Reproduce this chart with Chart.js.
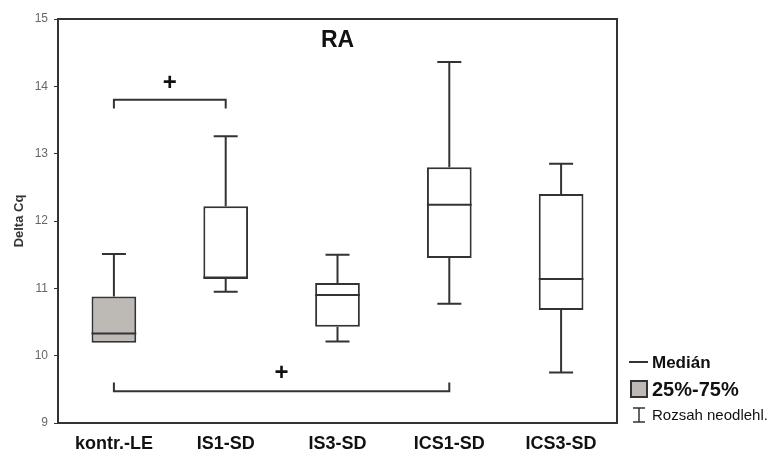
<!DOCTYPE html>
<html>
<head>
<meta charset="utf-8">
<script src="https://cdn.jsdelivr.net/npm/chart.js@4"></script>
<style>
  body { margin: 0; background: #fff; }
  #wrap { width: 771px; height: 452px; }
</style>
</head>
<body>
<div id="wrap"><canvas id="myChart"></canvas></div>
<script>
// data
const categories = ['kontr.-LE', 'IS1-SD', 'IS3-SD', 'ICS1-SD', 'ICS3-SD'];
const minVals = [10.19, 10.95, 10.21, 10.77, 9.75];
const q1Vals = [10.19, 11.14, 10.43, 11.45, 10.68];
const medianVals = [10.33, 11.16, 10.90, 12.24, 11.14];
const q3Vals = [10.88, 12.22, 11.08, 12.80, 12.40];
const maxVals = [11.51, 13.26, 11.50, 14.36, 12.85];
const yTicks = [9, 10, 11, 12, 13, 14, 15];
// significance brackets: from / to category index, bracket level, tick end level, plus level
const bracketFrom = [0, 0];
const bracketTo = [1, 3];
const bracketLevel = [13.80, 9.47];
const bracketEnd = [13.67, 9.60];
const plusLevel = [14.04, 9.73];

const lineColor = '#333333';
const boxFills = ['#bdbab6', '#ffffff', '#ffffff', '#ffffff', '#ffffff'];

const boxPlugin = {
    id: 'boxExtras',
    beforeDatasetsDraw(chart) {
        // whiskers behind the boxes
        const ctx = chart.ctx;
        const x = chart.scales.x, y = chart.scales.y;
        ctx.save();
        ctx.strokeStyle = lineColor;
        ctx.lineWidth = 2;
        for (let i = 0; i < categories.length; i++) {
            const cx = x.getPixelForValue(i);
            const cap = 12;
            const parts = [[q3Vals[i], maxVals[i]], [q1Vals[i], minVals[i]]];
            parts.forEach(function (p) {
                if (Math.abs(p[0] - p[1]) < 0.01) return;
                ctx.beginPath();
                ctx.moveTo(cx, y.getPixelForValue(p[0]));
                ctx.lineTo(cx, y.getPixelForValue(p[1]));
                ctx.moveTo(cx - cap, y.getPixelForValue(p[1]));
                ctx.lineTo(cx + cap, y.getPixelForValue(p[1]));
                ctx.stroke();
            });
        }
        ctx.restore();
    },
    afterDatasetsDraw(chart) {
        const ctx = chart.ctx;
        const x = chart.scales.x, y = chart.scales.y;
        const area = chart.chartArea;
        ctx.save();
        ctx.strokeStyle = lineColor;
        ctx.lineWidth = 2;

        // medians
        const meta = chart.getDatasetMeta(0);
        meta.data.forEach(function (bar, i) {
            const half = bar.width / 2;
            const my = y.getPixelForValue(medianVals[i]);
            ctx.beginPath();
            ctx.moveTo(bar.x - half, my);
            ctx.lineTo(bar.x + half, my);
            ctx.stroke();
        });

        // frame
        ctx.strokeRect(area.left, area.top, area.right - area.left, area.bottom - area.top);

        // brackets
        ctx.fillStyle = '#111';
        ctx.font = 'bold 24px Arial, "Liberation Sans", sans-serif';
        ctx.textAlign = 'center';
        ctx.textBaseline = 'middle';
        for (let b = 0; b < bracketFrom.length; b++) {
            const x1 = x.getPixelForValue(bracketFrom[b]);
            const x2 = x.getPixelForValue(bracketTo[b]);
            const by = y.getPixelForValue(bracketLevel[b]);
            const ey = y.getPixelForValue(bracketEnd[b]);
            ctx.beginPath();
            ctx.moveTo(x1, ey);
            ctx.lineTo(x1, by);
            ctx.lineTo(x2, by);
            ctx.lineTo(x2, ey);
            ctx.stroke();
            ctx.fillText('+', (x1 + x2) / 2, y.getPixelForValue(plusLevel[b]));
        }

        // title
        ctx.font = 'bold 23px Arial, "Liberation Sans", sans-serif';
        ctx.fillText('RA', x.getPixelForValue(2), area.top + 22);

        // y axis title
        ctx.save();
        ctx.translate(19, (area.top + area.bottom) / 2);
        ctx.rotate(-Math.PI / 2);
        ctx.font = 'bold 13px Arial, "Liberation Sans", sans-serif';
        ctx.fillStyle = '#333';
        ctx.fillText('Delta Cq', 0, 0);
        ctx.restore();

        // legend
        const lx = area.right + 12;
        ctx.textAlign = 'left';
        ctx.fillStyle = '#111';
        ctx.beginPath();
        ctx.moveTo(lx, 362);
        ctx.lineTo(lx + 19, 362);
        ctx.stroke();
        ctx.font = 'bold 17px Arial, "Liberation Sans", sans-serif';
        ctx.fillText('Medián', lx + 23, 363);

        ctx.fillStyle = boxFills[0];
        ctx.fillRect(lx + 2, 381, 16, 16);
        ctx.strokeRect(lx + 2, 381, 16, 16);
        ctx.fillStyle = '#111';
        ctx.font = 'bold 20px Arial, "Liberation Sans", sans-serif';
        ctx.fillText('25%-75%', lx + 23, 390);

        ctx.lineWidth = 1.5;
        ctx.beginPath();
        ctx.moveTo(lx + 4, 408); ctx.lineTo(lx + 16, 408);
        ctx.moveTo(lx + 10, 408); ctx.lineTo(lx + 10, 422);
        ctx.moveTo(lx + 4, 422); ctx.lineTo(lx + 16, 422);
        ctx.stroke();
        ctx.font = '15px Arial, "Liberation Sans", sans-serif';
        ctx.fillText('Rozsah neodlehl.', lx + 23, 416);
        ctx.restore();
    }
};

const ctx = document.getElementById('myChart').getContext('2d');
const myChart = new Chart(ctx, {
    type: 'bar',
    data: {
        labels: categories,
        datasets: [{
            data: q1Vals.map(function (q1, i) { return [q1, q3Vals[i]]; }),
            backgroundColor: boxFills,
            borderColor: lineColor,
            borderWidth: 2,
            borderSkipped: false,
            categoryPercentage: 1,
            barPercentage: 0.4
        }]
    },
    options: {
        responsive: true,
        maintainAspectRatio: false,
        animation: false,
        layout: { padding: { top: 19, right: 154, left: 0, bottom: 0 } },
        plugins: { legend: { display: false }, tooltip: { enabled: false } },
        scales: {
            x: {
                grid: { display: false },
                border: { display: false },
                ticks: {
                    color: '#111',
                    padding: 2,
                    font: { family: 'Arial, "Liberation Sans", sans-serif', size: 18, weight: 'bold' }
                },
                afterFit(scale) { scale.height = 29; }
            },
            y: {
                min: yTicks[0],
                max: yTicks[yTicks.length - 1],
                afterBuildTicks(scale) { scale.ticks = yTicks.map(function (v) { return { value: v }; }); },
                grid: { drawOnChartArea: false, drawTicks: true, tickLength: 4, color: lineColor },
                border: { display: false },
                ticks: {
                    color: '#666',
                    padding: 6,
                    font: { family: 'Arial, "Liberation Sans", sans-serif', size: 12 }
                },
                afterFit(scale) { scale.width = 58; }
            }
        }
    },
    plugins: [boxPlugin]
});
</script>
</body>
</html>
